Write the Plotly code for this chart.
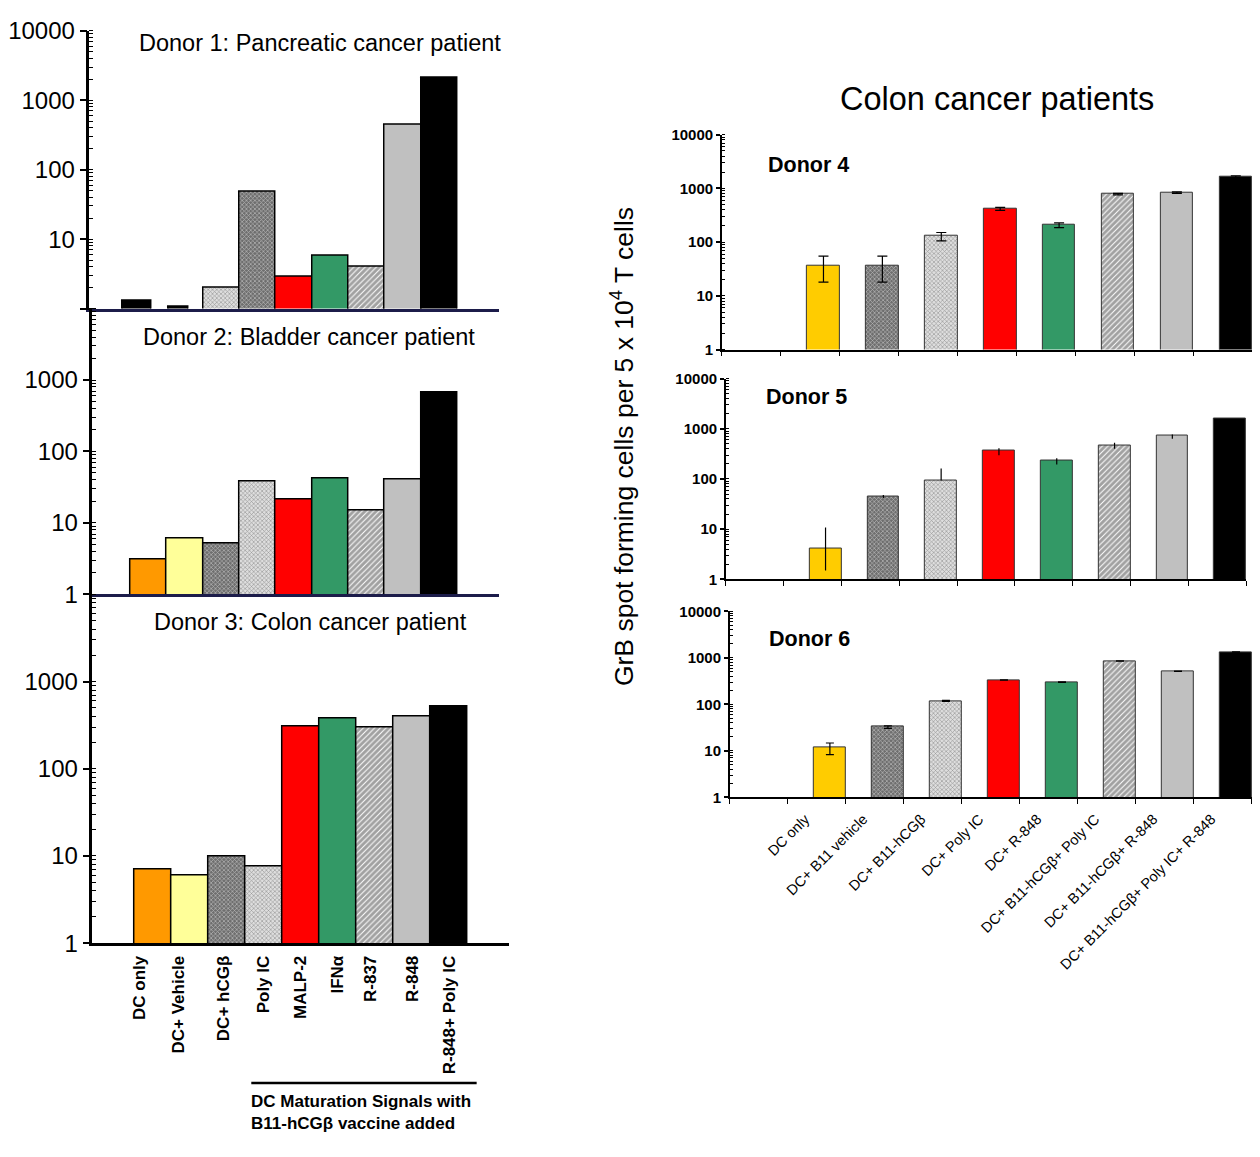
import numpy as np
import plotly.graph_objects as go

REF_W, REF_H = 1260, 1157
PAGE_MARGIN = 8
W, H = REF_W - 2 * PAGE_MARGIN, REF_H - 2 * PAGE_MARGIN
# empirical vertical mapping of the page photograph: shown_y = Y_OFF + Y_SC * layout_y
Y_OFF, Y_SC = 12.4, 0.977

# ---------------- data ----------------
left_categories = ["DC only", "DC+ Vehicle", "DC+ hCG\u03b2", "Poly IC", "MALP-2",
                   "IFN\u03b1", "R-837", "R-848", "R-848+ Poly IC"]
donor1_values = [1.3, 1.06, 2.0, 48, 2.9, 5.8, 4.0, 440, 2080]
donor2_values = [3.1, 6.0, 5.1, 38, 21, 42, 14.7, 41, 660]
donor3_values = [7.1, 6.0, 10, 7.5, 310, 375, 300, 400, 515]

right_categories = ["DC only", "DC+ B11 vehicle", "DC+ B11-hCG\u03b2", "DC+ Poly IC", "DC+ R-848",
                    "DC+ B11-hCG\u03b2+ Poly IC", "DC+ B11-hCG\u03b2+ R-848",
                    "DC+ B11-hCG\u03b2+ Poly IC+ R-848"]
donor4_values = [None, 37, 37, 130, 415, 209, 790, 833, 1660]
donor4_upper = [None, 55, 55, 151, 445, 229, 812, 860, 1720]
donor4_lower = [None, 18, 18, 106, 390, 187, 760, 810, 1610]
donor5_values = [None, 4.2, 45, 93, 372, 236, 458, 720, 1590]
donor5_upper = [None, 10.8, 48, 162, 408, 258, 527, 767, 1590]
donor5_lower = [None, 1.5, 42, 93, 297, 194, 400, 631, 1590]
donor6_values = [None, 11.9, 33, 118, 333, 302, 855, 513, 1335]
donor6_upper = [None, 14.7, 34.5, 121, 336, 306, 860, 518, 1340]
donor6_lower = [None, 8.3, 30.4, 115, 330, 298, 850, 508, 1330]

left_ticks_top = ["", "10", "100", "1000", "10000"]
left_ticks_low = ["1", "10", "100", "1000", ""]
right_ticks = ["1", "10", "100", "1000", "10000"]

# ---------------- styles ----------------
FONT = "Liberation Sans, Arial, sans-serif"
STY = {
    "black":  dict(c="#000000", shape="", fg="#000000", size=3, sol=0.5),
    "orange": dict(c="#FF9900", shape="", fg="#000000", size=3, sol=0.5),
    "lyell":  dict(c="#FFFF99", shape="", fg="#000000", size=3, sol=0.5),
    "gold":   dict(c="#FFCC00", shape="", fg="#000000", size=3, sol=0.5),
    "red":    dict(c="#FF0000", shape="", fg="#000000", size=3, sol=0.5),
    "green":  dict(c="#339966", shape="", fg="#000000", size=3, sol=0.5),
    "gray":   dict(c="#C0C0C0", shape="", fg="#000000", size=3, sol=0.5),
    "dchk":   dict(c="#6e6e6e", shape="x", fg="#000000", size=3, sol=0.4),
    "lchk":   dict(c="#dedede", shape="x", fg="#808080", size=3, sol=0.35),
    "diag":   dict(c="#ffffff", shape="/", fg="#000000", size=4, sol=0.75),
}
donor1_style = ["black", "black", "lchk", "dchk", "red", "green", "diag", "gray", "black"]
donor23_style = ["orange", "lyell", "dchk", "lchk", "red", "green", "diag", "gray", "black"]
right_style = ["gold", "gold", "dchk", "lchk", "red", "green", "diag", "gray", "black"]
left_label_shift = [-0.35, -0.3, -0.08, 0, 0, 0, -0.12, 0, 0]


def marker_for(style, line_color="#000000", line_w=1.5):
    return dict(
        color=[STY[s]["c"] for s in style],
        line=dict(color=line_color, width=line_w),
        pattern=dict(
            shape=[STY[s]["shape"] for s in style],
            fgcolor=[STY[s]["fg"] for s in style],
            size=[STY[s]["size"] for s in style],
            solidity=[STY[s]["sol"] for s in style],
            fillmode="overlay",
        ),
    )


fig = go.Figure()

# ----- left panels -----
idx = np.arange(len(left_categories))
d1_width = [0.79, 0.55] + [1.0] * 7
d1_offset = [-0.726, -0.466] + [-0.5] * 7
fig.add_trace(go.Bar(x=idx, y=donor1_values, width=d1_width, offset=d1_offset,
                     marker=marker_for(donor1_style), xaxis="x", yaxis="y", showlegend=False))
fig.add_trace(go.Bar(x=idx, y=donor2_values, width=1.0,
                     marker=marker_for(donor23_style), xaxis="x2", yaxis="y2", showlegend=False))
fig.add_trace(go.Bar(x=idx, y=donor3_values, width=1.0,
                     marker=marker_for(donor23_style), xaxis="x3", yaxis="y3", showlegend=False))

# ----- right panels -----
ridx = np.arange(9)
rbar_w = 0.55
rx = ridx + 0.5 - rbar_w / 2


def err(vals, up, lo):
    plus = [None if v is None else u - v for v, u in zip(vals, up)]
    minus = [None if v is None else v - l for v, l in zip(vals, lo)]
    return plus, minus


for k, (vals, up, lo, cap) in enumerate([
        (donor4_values, donor4_upper, donor4_lower, 5),
        (donor5_values, donor5_upper, donor5_lower, 0),
        (donor6_values, donor6_upper, donor6_lower, 4)]):
    plus, minus = err(vals, up, lo)
    ax = str(k + 4)
    fig.add_trace(go.Bar(
        x=rx, y=vals, width=rbar_w,
        marker=marker_for(right_style, line_color="#333333", line_w=1),
        error_y=dict(type="data", array=plus, arrayminus=minus, symmetric=False,
                     color="#000000", thickness=1.2, width=cap),
        xaxis="x" + ax, yaxis="y" + ax, showlegend=False))


def py(px):
    layout_y = (px - Y_OFF) / Y_SC
    return min(1.0, max(0.0, 1 - (layout_y - PAGE_MARGIN) / H))


def pxx(px):
    return min(1.0, max(0.0, (px - PAGE_MARGIN) / W))


left_y_common = dict(type="log", range=[0, 4], showgrid=False, zeroline=False,
                     showline=True, linecolor="#000000", linewidth=2.5,
                     ticks="outside", ticklen=7, tickwidth=2, tickcolor="#000000",
                     tickmode="array", tickvals=[1, 10, 100, 1000, 10000],
                     tickfont=dict(family=FONT, size=24, color="#000000"),
                     minor=dict(ticks="inside", ticklen=4, tickwidth=1, tickcolor="#000000",
                                dtick="D1", showgrid=False))
right_y_common = dict(type="log", range=[0, 4], showgrid=False, zeroline=False,
                      showline=True, linecolor="#000000", linewidth=1.5,
                      ticks="outside", ticklen=4, tickwidth=1.5, tickcolor="#000000",
                      tickmode="array", tickvals=[1, 10, 100, 1000, 10000], ticktext=right_ticks,
                      tickfont=dict(family=FONT, size=15, color="#000000", weight="bold"),
                      minor=dict(ticks="inside", ticklen=3, tickwidth=1, tickcolor="#000000",
                                 dtick="D1", showgrid=False))
left_x_common = dict(showgrid=False, zeroline=False, showline=True, linewidth=2.5,
                     ticks="", fixedrange=True)
right_x_common = dict(range=[-0.5, 8.5], showgrid=False, zeroline=False, showline=True,
                      linecolor="#000000", linewidth=1.5, ticks="",
                      minor=dict(ticks="outside", ticklen=5, tickwidth=1.2, tickcolor="#000000",
                                 tickmode="linear", tick0=-0.5, dtick=1, showgrid=False))

fig.update_layout(
    width=W, height=H, autosize=False,
    margin=dict(l=0, r=0, t=0, b=0),
    paper_bgcolor="white", plot_bgcolor="rgba(0,0,0,0)",
    bargap=0,
    font=dict(family=FONT, color="#000000"),
    # Donor 1
    xaxis=dict(left_x_common, domain=[pxx(81), pxx(494)], range=[-1.63, 9.66],
               linecolor="#1c1c4a", showticklabels=False, anchor="y"),
    yaxis=dict(left_y_common, domain=[py(307), py(29)], ticktext=left_ticks_top, anchor="x"),
    # Donor 2
    xaxis2=dict(left_x_common, domain=[pxx(84), pxx(494)], range=[-1.548, 9.657],
                linecolor="#1c1c4a", showticklabels=False, anchor="y2"),
    yaxis2=dict(left_y_common, domain=[py(593), py(307)], ticktext=left_ticks_low, anchor="x2"),
    # Donor 3
    xaxis3=dict(left_x_common, domain=[pxx(84), pxx(504)], range=[-1.63, 9.63],
                linecolor="#000000", anchor="y3",
                tickmode="array", tickvals=idx + np.array(left_label_shift),
                ticktext=left_categories, tickangle=-90, ticklabelstandoff=3,
                tickfont=dict(family=FONT, size=17, color="#000000", weight="bold")),
    yaxis3=dict(left_y_common, domain=[py(942), py(593)], ticktext=left_ticks_low, anchor="x3"),
    # Donor 4
    xaxis4=dict(right_x_common, domain=[pxx(718), pxx(1252)], showticklabels=False, anchor="y4"),
    yaxis4=dict(right_y_common, domain=[py(348), py(133)], anchor="x4"),
    # Donor 5
    xaxis5=dict(right_x_common, domain=[pxx(722), pxx(1246)], showticklabels=False, anchor="y5"),
    yaxis5=dict(right_y_common, domain=[py(578), py(377)], anchor="x5"),
    # Donor 6
    xaxis6=dict(right_x_common, domain=[pxx(726), pxx(1252)], anchor="y6",
                tickmode="array", tickvals=ridx[:8] + 0.8, ticktext=right_categories,
                tickangle=-45, ticklabelstandoff=6,
                tickfont=dict(family=FONT, size=14.5, color="#000000")),
    yaxis6=dict(right_y_common, domain=[py(796), py(610)], anchor="x6"),
)

ann = []
ann.append(dict(text="Donor 1: Pancreatic cancer patient", x=pxx(313), y=py(41),
                font=dict(size=23.5)))
ann.append(dict(text="Donor 2: Bladder cancer patient", x=pxx(302), y=py(335),
                font=dict(size=23.5)))
ann.append(dict(text="Donor 3: Colon cancer patient", x=pxx(304), y=py(621),
                font=dict(size=23.5)))
ann.append(dict(text="Donor 4", x=pxx(762), y=py(163), xanchor="left",
                font=dict(size=21.5, weight="bold")))
ann.append(dict(text="Donor 5", x=pxx(760), y=py(395), xanchor="left",
                font=dict(size=21.5, weight="bold")))
ann.append(dict(text="Donor 6", x=pxx(763), y=py(638), xanchor="left",
                font=dict(size=21.5, weight="bold")))
ann.append(dict(text="Colon cancer patients", x=pxx(995), y=py(97), font=dict(size=32.5)))
ann.append(dict(text="GrB spot forming cells per 5 x 10<sup>4</sup> T cells",
                x=pxx(618), y=py(445), textangle=-90, font=dict(size=26.5)))
ann.append(dict(text="DC Maturation Signals with<br>B11-hCG\u03b2 vaccine added",
                x=pxx(242), y=0, xanchor="left", yanchor="bottom", yshift=1, align="left",
                font=dict(size=17, weight="bold")))
for a in ann:
    a.setdefault("xanchor", "center")
    a.setdefault("yanchor", "middle")
    a["xref"] = "paper"
    a["yref"] = "paper"
    a["showarrow"] = False
    a["font"] = dict(family=FONT, color="#000000", **a["font"])
fig.update_layout(annotations=ann)

fig.add_shape(type="line", xref="paper", yref="paper",
              x0=pxx(244), x1=pxx(471), y0=py(1082), y1=py(1082),
              line=dict(color="#000000", width=2.5))

fig.write_html("out.html")
